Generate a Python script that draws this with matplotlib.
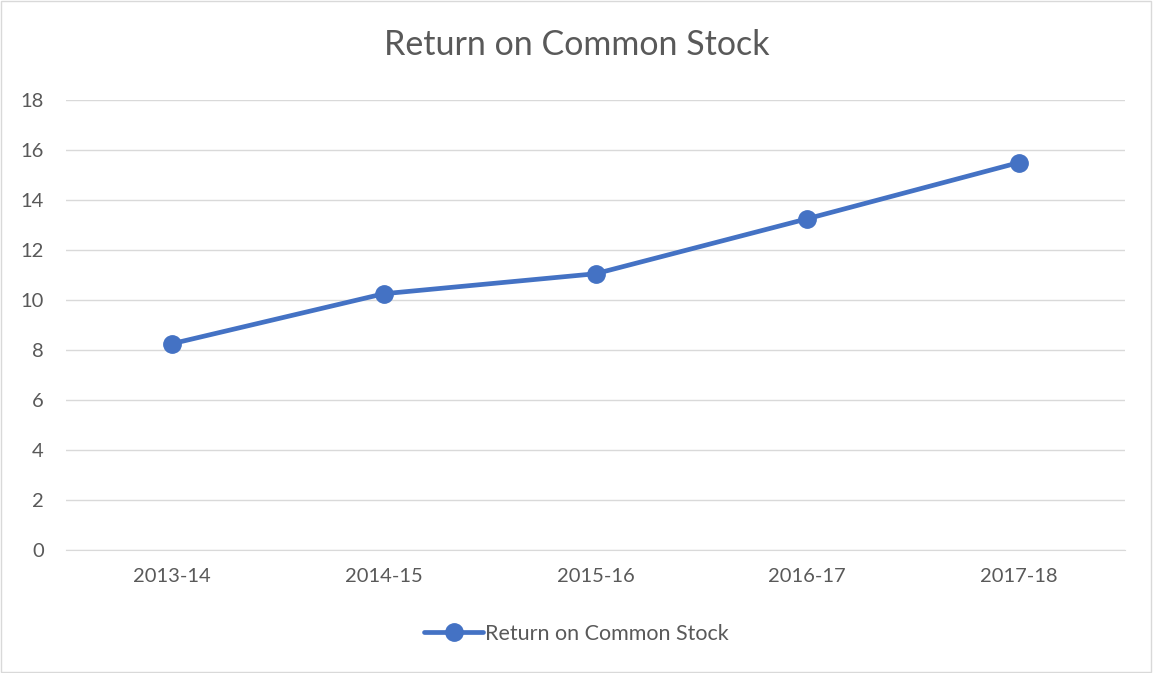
import matplotlib
matplotlib.use("Agg")
import matplotlib.pyplot as plt
from matplotlib.patches import Rectangle

years = ['2013-14', '2014-15', '2015-16', '2016-17', '2017-18']
returns = [8.25, 10.25, 11.05, 13.25, 15.5]
y_ticks = [0, 2, 4, 6, 8, 10, 12, 14, 16, 18]

plt.rcParams['font.family'] = ['Lato', 'DejaVu Sans']
text_color = '#595959'
line_color = '#4472C4'

fig = plt.figure(figsize=(11.53, 6.73), dpi=100)
ax = fig.add_axes([66 / 1153, 1 - 550 / 673, (1125 - 66) / 1153, 450 / 673])

x = list(range(len(years)))
ax.plot(x, returns, color=line_color, linewidth=3.4, marker='o', markersize=12.5,
        label='Return on Common Stock', solid_capstyle='round')

ax.set_xlim(-0.5, len(years) - 0.5)
ax.set_ylim(0, 18)
ax.set_yticks(y_ticks)
ax.set_xticks(x)
ax.set_xticklabels(years)
ax.grid(axis='y', color='#D9D9D9', linewidth=1)
ax.set_axisbelow(True)
for s in ['top', 'right', 'left']:
    ax.spines[s].set_visible(False)
ax.spines['bottom'].set_color('#D9D9D9')
ax.tick_params(axis='both', length=0, labelsize=14.5, colors=text_color)
ax.tick_params(axis='x', pad=13)
ax.tick_params(axis='y', pad=16)

fig.text(0.5, 1 - 45 / 673, 'Return on Common Stock', ha='center', va='center',
         fontsize=24.5, color=text_color)

fig.legend(loc='center', bbox_to_anchor=(0.5, 1 - 634 / 673), frameon=False,
           fontsize=15.5, labelcolor=text_color, handlelength=2.7, handletextpad=0.1)

fig.patches.append(Rectangle((0.001, 0.001), 0.997, 0.997, transform=fig.transFigure,
                             fill=False, edgecolor='#D9D9D9', linewidth=1))

fig.savefig('out.png', dpi=100)
